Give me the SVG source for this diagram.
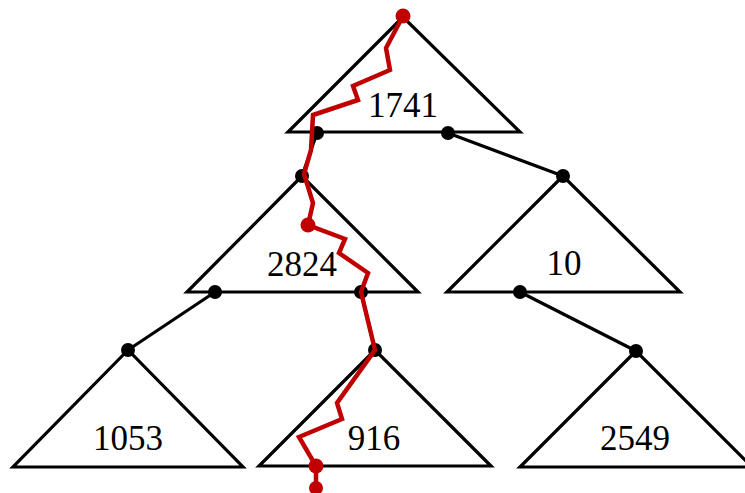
<svg xmlns="http://www.w3.org/2000/svg" width="745" height="493" viewBox="0 0 745 493">
<style>
.tri{fill:none;stroke:#000;stroke-width:3.2;stroke-linejoin:miter}
.lbl{font-family:"Liberation Serif","Times New Roman",serif;font-size:35px;fill:#000;text-anchor:middle}
.edge{stroke:#000;stroke-width:3.2;fill:none}
.dot{fill:#000}
.path{stroke:#c00000;stroke-width:4.5;fill:none;stroke-linejoin:miter}
.rdot{fill:#c00000}
</style>
<rect width="745" height="493" fill="#fff"/>
<g id="n1741"><polygon class="tri" points="403,17 288,132 520,132"/><text class="lbl" x="403" y="117">1741</text></g>
<g id="n2824"><polygon class="tri" points="302,176 187,292 418,292"/><text class="lbl" x="302" y="276">2824</text></g>
<g id="n10"><polygon class="tri" points="563,176 447,292 680,292"/><text class="lbl" x="564" y="275">10</text></g>
<g id="n1053"><polygon class="tri" points="128,350 13,467 243,467"/><text class="lbl" x="128" y="450">1053</text></g>
<g id="n916"><polygon class="tri" points="375,350 259,466 491,466"/><text class="lbl" x="374" y="450">916</text></g>
<g id="n2549"><polygon class="tri" points="636,351 520,467 752,467"/><text class="lbl" x="635" y="450">2549</text></g>
<g id="connectors">
<line class="edge" x1="448" y1="133" x2="563" y2="176"/>
<line class="edge" x1="317" y1="133" x2="302" y2="176"/>
<line class="edge" x1="215" y1="292" x2="128" y2="350"/>
<line class="edge" x1="361" y1="292" x2="375" y2="350"/>
<line class="edge" x1="520" y1="292" x2="636" y2="351"/>
<circle class="dot" cx="317" cy="133" r="7"/>
<circle class="dot" cx="448" cy="133" r="7"/>
<circle class="dot" cx="302" cy="176" r="7"/>
<circle class="dot" cx="563" cy="176" r="7"/>
<circle class="dot" cx="215" cy="292" r="7"/>
<circle class="dot" cx="361" cy="292" r="7"/>
<circle class="dot" cx="520" cy="292" r="7"/>
<circle class="dot" cx="128" cy="350" r="7"/>
<circle class="dot" cx="375" cy="350" r="7"/>
<circle class="dot" cx="636" cy="351" r="7"/>
</g>
<g id="route">
<polyline class="path" points="403,16 386,48 390,70 353,86 358,100 313,115 311,150 304,174 313,203 308,225 345,239 339,253 368,273 361,292 375,350 337,403 342,419 299,437 316,466 316,488"/>
<circle class="rdot" cx="403" cy="16" r="7.5"/>
<circle class="rdot" cx="308" cy="225" r="7.5"/>
<circle class="rdot" cx="316" cy="466" r="7.5"/>
<circle class="rdot" cx="316" cy="488" r="7"/>
</g>
</svg>
